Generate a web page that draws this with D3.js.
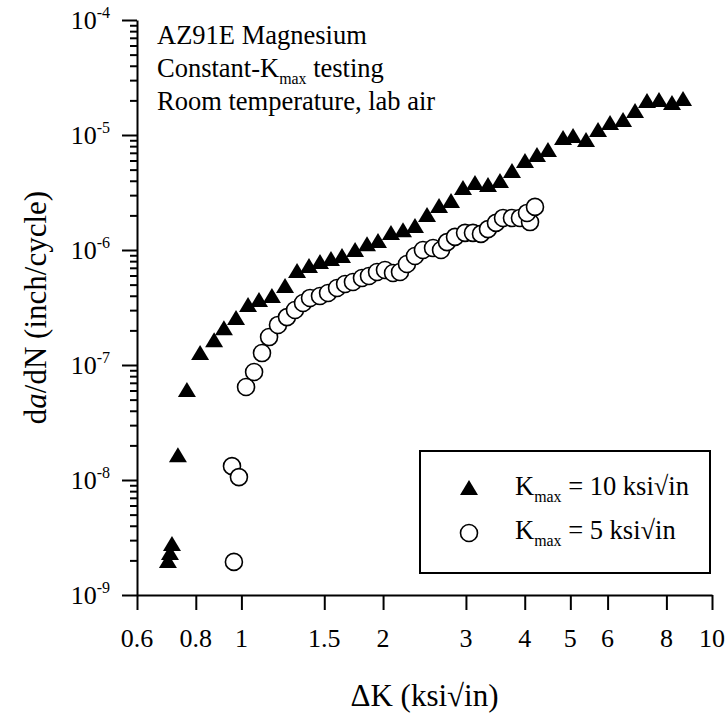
<!DOCTYPE html>
<html>
<head>
<meta charset="utf-8">
<script src="https://cdn.jsdelivr.net/npm/d3@7"></script>
<style>
  body { margin: 0; background: #fff; }
  svg { display: block; font-family: "Liberation Serif", "Times New Roman", serif; }
</style>
</head>
<body>
<svg></svg>
<script>
const width = 727;
const height = 715;

// Kmax = 10 ksi√in (filled triangles)
const dK10 = [0.698, 0.705, 0.712, 0.733, 0.766, 0.817, 0.875, 0.918, 0.974, 1.033,
  1.090, 1.161, 1.238, 1.313, 1.392, 1.469, 1.550, 1.636, 1.744, 1.849,
  1.951, 2.079, 2.205, 2.338, 2.480, 2.630, 2.789, 2.957, 3.136, 3.342,
  3.544, 3.758, 4.005, 4.247, 4.482, 4.825, 5.067, 5.399, 5.726, 6.072,
  6.471, 6.862, 7.276, 7.716, 8.222, 8.678];
const rate10 = [1.90e-9, 2.23e-9, 2.67e-9, 1.58e-8, 5.82e-8, 1.22e-7, 1.58e-7, 2.01e-7, 2.46e-7, 3.19e-7,
  3.53e-7, 3.83e-7, 4.67e-7, 6.31e-7, 6.97e-7, 7.55e-7, 8.02e-7, 8.52e-7, 9.61e-7, 1.08e-6,
  1.15e-6, 1.35e-6, 1.43e-6, 1.55e-6, 1.94e-6, 2.32e-6, 2.56e-6, 3.32e-6, 3.67e-6, 3.53e-6,
  3.83e-6, 4.67e-6, 5.71e-6, 6.44e-6, 7.11e-6, 9.05e-6, 9.42e-6, 8.69e-6, 1.06e-5, 1.22e-5,
  1.30e-5, 1.55e-5, 1.90e-5, 1.94e-5, 1.82e-5, 1.98e-5];

// Kmax = 5 ksi√in (open circles)
const dK5 = [0.964, 0.955, 0.988, 1.023, 1.064, 1.106, 1.145, 1.196, 1.250, 1.300,
  1.352, 1.399, 1.469, 1.528, 1.597, 1.661, 1.726, 1.804, 1.867, 1.942,
  2.019, 2.100, 2.173, 2.248, 2.338, 2.431, 2.554, 2.656, 2.735, 2.844,
  2.987, 3.105, 3.229, 3.342, 3.475, 3.597, 3.758, 3.908, 4.105, 4.045, 4.206];
const rate5 = [1.94e-9, 1.32e-8, 1.06e-8, 6.44e-8, 8.69e-8, 1.27e-7, 1.75e-7, 2.23e-7, 2.61e-7, 3.01e-7,
  3.46e-7, 3.83e-7, 3.98e-7, 4.23e-7, 4.67e-7, 5.06e-7, 5.27e-7, 5.71e-7, 5.94e-7, 6.44e-7,
  6.70e-7, 6.31e-7, 6.44e-7, 7.55e-7, 8.87e-7, 1.00e-6, 1.04e-6, 1.00e-6, 1.17e-6, 1.30e-6,
  1.41e-6, 1.41e-6, 1.38e-6, 1.52e-6, 1.72e-6, 1.90e-6, 1.90e-6, 1.90e-6, 1.75e-6, 2.10e-6, 2.37e-6];

const xTicks = [0.6, 0.8, 1, 1.5, 2, 3, 4, 5, 6, 8, 10];
const yExponents = [-9, -8, -7, -6, -5, -4];
const notes = ["AZ91E Magnesium", "Constant-K|max| testing", "Room temperature, lab air"];
const legendLabels = ["K|max| = 10 ksi√in", "K|max| = 5 ksi√in"];

const svg = d3.select('svg')
  .attr('width', width)
  .attr('height', height);

const x = d3.scaleLog().domain([0.6, 10]).range([137, 712]);
const y = d3.scaleLog().domain([1e-9, 1e-4]).range([595, 20]);

// minor y ticks 2..9 in each decade
const yMinor = [];
yExponents.slice(0, -1).forEach(e => {
  for (let m = 2; m <= 9; m++) yMinor.push(m * Math.pow(10, e));
});

const axisStyle = g => {
  g.selectAll('path, line').attr('stroke', '#000').attr('stroke-width', 2);
  g.selectAll('text').remove();
};

svg.append('g')
  .attr('transform', 'translate(0,595)')
  .call(d3.axisBottom(x).tickValues(xTicks).tickSize(15).tickSizeOuter(0))
  .call(axisStyle);

svg.append('g')
  .attr('transform', 'translate(137,0)')
  .call(d3.axisLeft(y).tickValues(yExponents.map(e => Math.pow(10, e))).tickSize(15).tickSizeOuter(0))
  .call(axisStyle);

svg.append('g')
  .attr('transform', 'translate(137,0)')
  .call(d3.axisLeft(y).tickValues(yMinor).tickSize(7).tickSizeOuter(0))
  .call(axisStyle)
  .select('.domain').remove();

// tick labels
svg.append('g').selectAll('text')
  .data(xTicks)
  .enter()
  .append('text')
    .attr('x', d => x(d))
    .attr('y', 647)
    .attr('text-anchor', 'middle')
    .attr('font-size', 26)
    .text(d => d);

const yLab = svg.append('g').selectAll('text')
  .data(yExponents)
  .enter()
  .append('text')
    .attr('x', 110)
    .attr('y', d => y(Math.pow(10, d)) + 9)
    .attr('text-anchor', 'end')
    .attr('font-size', 26);
yLab.append('tspan').text('10');
yLab.append('tspan')
  .attr('font-size', 16)
  .attr('dy', -11)
  .text(d => d);

// axis titles
svg.append('text')
  .attr('x', (137 + 712) / 2)
  .attr('y', 706)
  .attr('text-anchor', 'middle')
  .attr('font-size', 31)
  .text('ΔK (ksi√in)');

const yTitle = svg.append('text')
  .attr('transform', `translate(46,${(20 + 595) / 2}) rotate(-90)`)
  .attr('text-anchor', 'middle')
  .attr('font-size', 31);
yTitle.append('tspan').text('d');
yTitle.append('tspan').attr('font-style', 'italic').text('a');
yTitle.append('tspan').text('/dN (inch/cycle)');

// text with a "max" subscript written as |max|
function richText(sel, str, size) {
  str.split('|').forEach((part, i) => {
    const t = sel.append('tspan').text(part);
    if (i % 2 === 1) t.attr('font-size', size * 0.6).attr('dy', 7);
    else if (i > 0) t.attr('dy', -7);
  });
}

notes.forEach((n, i) => {
  const t = svg.append('text')
    .attr('x', 157)
    .attr('y', 44 + i * 33)
    .attr('font-size', 26.5);
  richText(t, n, 26.5);
});

// data
const tri = (cx, cy) => `M${cx - 9},${cy + 5}L${cx + 9},${cy + 5}L${cx},${cy - 10}Z`;

const set10 = dK10.map((d, i) => ({ dk: d, rate: rate10[i] }));
const set5 = dK5.map((d, i) => ({ dk: d, rate: rate5[i] }));

svg.append('g').selectAll('path')
  .data(set10)
  .enter()
  .append('path')
    .attr('d', d => tri(x(d.dk), y(d.rate)))
    .attr('fill', '#000');

svg.append('g').selectAll('circle')
  .data(set5)
  .enter()
  .append('circle')
    .attr('cx', d => x(d.dk))
    .attr('cy', d => y(d.rate))
    .attr('r', 8.5)
    .attr('fill', '#fff')
    .attr('stroke', '#000')
    .attr('stroke-width', 1.6);

// legend
const legend = svg.append('g');
legend.append('rect')
  .attr('x', 420).attr('y', 451)
  .attr('width', 290).attr('height', 122)
  .attr('fill', '#fff')
  .attr('stroke', '#000')
  .attr('stroke-width', 2);

legend.append('path')
  .attr('d', tri(469, 490))
  .attr('fill', '#000');
legend.append('circle')
  .attr('cx', 469).attr('cy', 533).attr('r', 8.5)
  .attr('fill', '#fff').attr('stroke', '#000').attr('stroke-width', 1.6);

legendLabels.forEach((s, i) => {
  const t = legend.append('text')
    .attr('x', 515)
    .attr('y', 495 + i * 44)
    .attr('font-size', 26.5);
  richText(t, s, 26.5);
});
</script>
</body>
</html>
